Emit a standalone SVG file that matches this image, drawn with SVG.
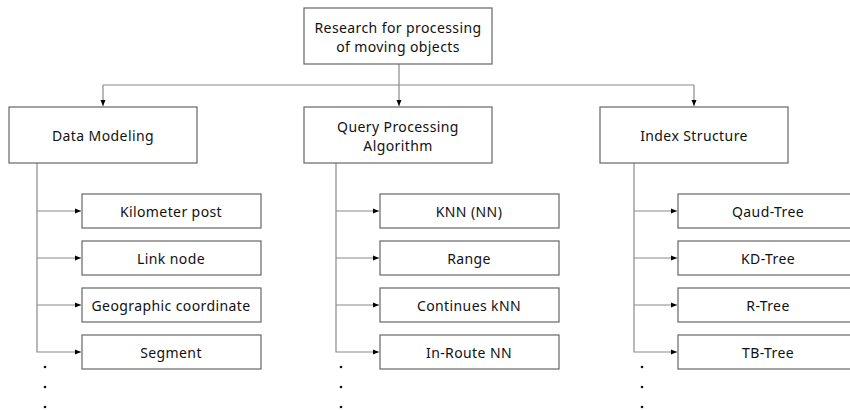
<svg xmlns="http://www.w3.org/2000/svg" width="850" height="410" viewBox="0 0 850 410">
<defs>
<marker id="ah" markerWidth="6" markerHeight="6" refX="6" refY="3" orient="auto" markerUnits="userSpaceOnUse">
<path d="M0,0.5 L6,3 L0,5.5 Z" fill="#000"/>
</marker>
<style>
.box{fill:#fff;stroke:#666;stroke-width:1.2}
.ln{fill:none;stroke:#8a8a8a;stroke-width:1.2}
.t{font-family:"Noto Sans","Liberation Sans",sans-serif;font-size:14px;letter-spacing:0.4px;fill:#111;text-anchor:middle;dominant-baseline:central}
.dot{fill:#111}
</style>
</defs>
<g id="connectors">
<path class="ln" d="M399,64 V106" marker-end="url(#ah)"/>
<path class="ln" d="M103,85 H694"/>
<path class="ln" d="M103,85 V106" marker-end="url(#ah)"/>
<path class="ln" d="M694,85 V106" marker-end="url(#ah)"/>
<path class="ln" d="M37,163 V352 H81" marker-end="url(#ah)"/>
<path class="ln" d="M37,211 H81" marker-end="url(#ah)"/>
<path class="ln" d="M37,258 H81" marker-end="url(#ah)"/>
<path class="ln" d="M37,305 H81" marker-end="url(#ah)"/>
<path class="ln" d="M336,163 V352 H379" marker-end="url(#ah)"/>
<path class="ln" d="M336,211 H379" marker-end="url(#ah)"/>
<path class="ln" d="M336,258 H379" marker-end="url(#ah)"/>
<path class="ln" d="M336,305 H379" marker-end="url(#ah)"/>
<path class="ln" d="M634,163 V352 H677" marker-end="url(#ah)"/>
<path class="ln" d="M634,211 H677" marker-end="url(#ah)"/>
<path class="ln" d="M634,258 H677" marker-end="url(#ah)"/>
<path class="ln" d="M634,305 H677" marker-end="url(#ah)"/>
</g>
<g id="root"><rect class="box" x="304" y="8" width="188" height="56"/><text class="t" x="398" y="27">Research for processing</text><text class="t" x="398" y="46">of moving objects</text></g>
<g id="data-modeling"><rect class="box" x="9" y="107" width="188" height="56"/><text class="t" x="103" y="135">Data Modeling</text></g>
<g id="query-processing"><rect class="box" x="304" y="107" width="188" height="56"/><text class="t" x="398" y="126">Query Processing</text><text class="t" x="398" y="145">Algorithm</text></g>
<g id="index-structure"><rect class="box" x="600" y="107" width="188" height="56"/><text class="t" x="694" y="135">Index Structure</text></g>
<g id="kilometer-post"><rect class="box" x="82" y="194" width="179" height="34"/><text class="t" x="171" y="211">Kilometer post</text></g>
<g id="link-node"><rect class="box" x="82" y="241" width="179" height="34"/><text class="t" x="171" y="258">Link node</text></g>
<g id="geographic-coordinate"><rect class="box" x="82" y="288" width="179" height="34"/><text class="t" x="171" y="305">Geographic coordinate</text></g>
<g id="segment"><rect class="box" x="82" y="335" width="179" height="34"/><text class="t" x="171" y="352">Segment</text></g>
<g id="knn"><rect class="box" x="380" y="194" width="179" height="34"/><text class="t" x="469" y="211">KNN (NN)</text></g>
<g id="range"><rect class="box" x="380" y="241" width="179" height="34"/><text class="t" x="469" y="258">Range</text></g>
<g id="continues-knn"><rect class="box" x="380" y="288" width="179" height="34"/><text class="t" x="469" y="305">Continues kNN</text></g>
<g id="in-route-nn"><rect class="box" x="380" y="335" width="179" height="34"/><text class="t" x="469" y="352">In-Route NN</text></g>
<g id="qaud-tree"><rect class="box" x="678" y="194" width="180" height="34"/><text class="t" x="768" y="211">Qaud-Tree</text></g>
<g id="kd-tree"><rect class="box" x="678" y="241" width="180" height="34"/><text class="t" x="768" y="258">KD-Tree</text></g>
<g id="r-tree"><rect class="box" x="678" y="288" width="180" height="34"/><text class="t" x="768" y="305">R-Tree</text></g>
<g id="tb-tree"><rect class="box" x="678" y="335" width="180" height="34"/><text class="t" x="768" y="352">TB-Tree</text></g>
<g id="ellipses">
<circle class="dot" cx="45" cy="367" r="1.3"/><circle class="dot" cx="45" cy="387" r="1.3"/><circle class="dot" cx="45" cy="407" r="1.3"/>
<circle class="dot" cx="341" cy="367" r="1.3"/><circle class="dot" cx="341" cy="387" r="1.3"/><circle class="dot" cx="341" cy="407" r="1.3"/>
<circle class="dot" cx="642" cy="367" r="1.3"/><circle class="dot" cx="642" cy="387" r="1.3"/><circle class="dot" cx="642" cy="407" r="1.3"/>
</g>
</svg>
